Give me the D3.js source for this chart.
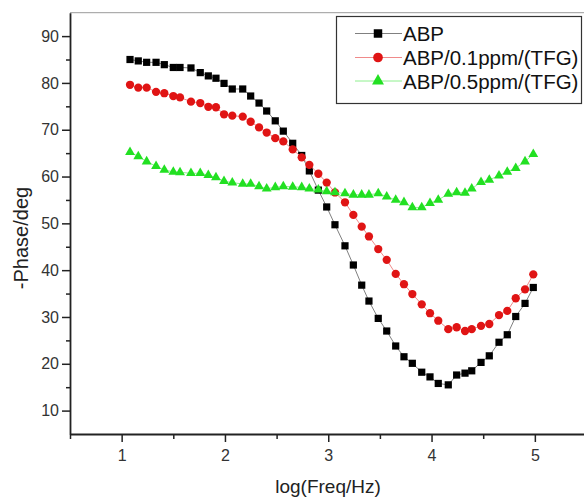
<!DOCTYPE html>
<html>
<head>
<meta charset="utf-8">
<script src="https://cdn.jsdelivr.net/npm/d3@7/dist/d3.min.js"></script>
<style>
  html, body { margin: 0; padding: 0; background: #fff; }
  svg { display: block; font-family: "Liberation Sans", Arial, sans-serif; }
</style>
</head>
<body>
<svg id="chart" width="584" height="500"></svg>
<script>
// log(Freq/Hz)
const logFreq = [1.081, 1.161, 1.242, 1.333, 1.413, 1.500, 1.565, 1.671, 1.761, 1.839,
  1.913, 1.991, 2.071, 2.172, 2.249, 2.330, 2.404, 2.487, 2.565, 2.656,
  2.743, 2.817, 2.904, 2.985, 3.065, 3.162, 3.243, 3.324, 3.394, 3.484,
  3.566, 3.653, 3.733, 3.814, 3.905, 3.985, 4.065, 4.162, 4.243, 4.324,
  4.389, 4.479, 4.559, 4.653, 4.733, 4.815, 4.905, 4.985];

const abp = [85.0, 84.7, 84.4, 84.4, 83.9, 83.3, 83.3, 83.2, 82.2, 81.5,
  81.0, 79.9, 78.7, 78.7, 77.2, 75.7, 74.0, 71.9, 69.7, 67.1,
  64.5, 61.2, 57.1, 53.5, 49.7, 45.2, 41.1, 36.8, 33.4, 29.7,
  27.0, 23.8, 21.5, 20.1, 18.2, 17.2, 15.8, 15.5, 17.6, 18.0,
  18.5, 20.3, 21.7, 24.6, 26.2, 30.1, 32.9, 36.3];

const abp01 = [79.6, 79.0, 79.0, 78.1, 77.8, 77.2, 76.9, 76.0, 75.7, 74.9,
  74.8, 73.3, 73.0, 72.8, 71.7, 70.5, 69.4, 68.2, 67.5, 65.8,
  64.1, 62.5, 60.6, 58.7, 56.6, 54.5, 51.8, 49.3, 47.2, 44.5,
  42.2, 39.2, 37.0, 34.9, 32.7, 30.8, 29.2, 27.4, 27.8, 27.0,
  27.4, 28.1, 28.5, 30.4, 31.3, 34.0, 35.9, 39.1];

const abp05 = [65.2, 64.3, 63.2, 62.2, 61.4, 61.0, 60.9, 60.7, 60.7, 60.3,
  59.8, 59.0, 58.7, 58.4, 58.4, 57.9, 57.4, 57.7, 57.9, 57.8,
  57.7, 57.4, 57.2, 56.8, 56.6, 56.4, 56.1, 56.1, 56.1, 56.4,
  55.7, 55.0, 54.5, 53.4, 53.4, 54.3, 55.0, 56.3, 56.6, 56.5,
  57.4, 58.8, 59.3, 60.2, 61.0, 61.8, 63.2, 64.8];

const seriesNames = ["ABP", "ABP/0.1ppm/(TFG)", "ABP/0.5ppm/(TFG)"];
const xTicks = [1, 2, 3, 4, 5];
const xMinorTicks = [0.5, 1.5, 2.5, 3.5, 4.5, 5.5];
const yTicks = [10, 20, 30, 40, 50, 60, 70, 80, 90];
const yMinorTicks = [15, 25, 35, 45, 55, 65, 75, 85];

const styles = [
  { color: "#000000", line: "#808080", symbol: d3.symbolSquare, size: 52 },
  { color: "#e01414", line: "#f08a8a", symbol: d3.symbolCircle, size: 54 },
  { color: "#22e022", line: "#8ef08e", symbol: d3.symbolTriangle, size: 42 }
];
const seriesData = [abp, abp01, abp05];

const svg = d3.select("#chart");
const plotLeft = 70, plotRight = 586.5, plotTop = 12.7, plotBottom = 434;

const x = d3.scaleLinear().domain([0.5, 5.5]).range([plotLeft, plotRight]);
const y = d3.scaleLinear().domain([5, 95]).range([plotBottom, plotTop]);

// top frame line
svg.append("line")
  .attr("x1", plotLeft).attr("x2", plotRight).attr("y1", plotTop).attr("y2", plotTop)
  .attr("stroke", "#9a9a9a").attr("stroke-width", 1);

// minor ticks
const yMinor = svg.append("g").attr("transform", `translate(${plotLeft},0)`)
  .call(d3.axisLeft(y).tickValues(yMinorTicks).tickSize(4).tickFormat(""));
const xMinor = svg.append("g").attr("transform", `translate(0,${plotBottom})`)
  .call(d3.axisBottom(x).tickValues(xMinorTicks).tickSize(5).tickFormat(""));
[yMinor, xMinor].forEach(g => {
  g.select(".domain").remove();
  g.selectAll("line").attr("stroke", "#222").attr("stroke-width", 1.5);
});

// major axes
const yAxis = svg.append("g").attr("transform", `translate(${plotLeft},0)`)
  .call(d3.axisLeft(y).tickValues(yTicks).tickFormat(d3.format("d"))
    .tickSize(8).tickSizeOuter(0).tickPadding(3));
const xAxis = svg.append("g").attr("transform", `translate(0,${plotBottom})`)
  .call(d3.axisBottom(x).tickValues(xTicks).tickFormat(d3.format("d"))
    .tickSize(8).tickSizeOuter(0).tickPadding(8));
[yAxis, xAxis].forEach(g => {
  g.select(".domain").attr("stroke", "#222").attr("stroke-width", 1.8);
  g.selectAll(".tick line").attr("stroke", "#222").attr("stroke-width", 1.5);
  g.selectAll(".tick text").attr("fill", "#333").style("font-size", "16px")
    .style("font-family", "'Liberation Sans', Arial, sans-serif");
});

// axis titles
svg.append("text")
  .attr("transform", `translate(28,238) rotate(-90)`)
  .attr("text-anchor", "middle")
  .attr("fill", "#222")
  .style("font-size", "20px")
  .text("-Phase/deg");
svg.append("text")
  .attr("x", 328).attr("y", 493)
  .attr("text-anchor", "middle")
  .attr("fill", "#222")
  .style("font-size", "19px")
  .text("log(Freq/Hz)");

// series
seriesData.forEach((vals, i) => {
  const st = styles[i];
  const pts = vals.map((v, j) => [logFreq[j], v]);
  const line = d3.line().x(d => x(d[0])).y(d => y(d[1]));
  svg.append("path").datum(pts)
    .attr("d", line)
    .attr("fill", "none")
    .attr("stroke", st.line)
    .attr("stroke-width", 1);
  svg.append("g").selectAll("path")
    .data(pts).join("path")
    .attr("transform", d => `translate(${x(d[0])},${y(d[1])})`)
    .attr("d", d3.symbol().type(st.symbol).size(st.size))
    .attr("fill", st.color);
});

// legend
const lg = svg.append("g");
lg.append("rect")
  .attr("x", 336.5).attr("y", 16.5).attr("width", 245).attr("height", 87)
  .attr("fill", "#fff").attr("stroke", "#333").attr("stroke-width", 1.2);
const rowY = [33.5, 57.5, 81];
seriesNames.forEach((name, i) => {
  const st = styles[i];
  const g = lg.append("g").attr("transform", `translate(0,${rowY[i]})`);
  g.append("line").attr("x1", 355).attr("x2", 402).attr("y1", 0).attr("y2", 0)
    .attr("stroke", st.line).attr("stroke-width", 1);
  g.append("path").attr("transform", "translate(378,0)")
    .attr("d", d3.symbol().type(st.symbol).size(st.size + 20))
    .attr("fill", st.color);
  g.append("text").attr("x", 403).attr("y", 7.5)
    .attr("fill", "#111")
    .style("font-size", "20.5px")
    .text(name);
});
</script>
</body>
</html>
